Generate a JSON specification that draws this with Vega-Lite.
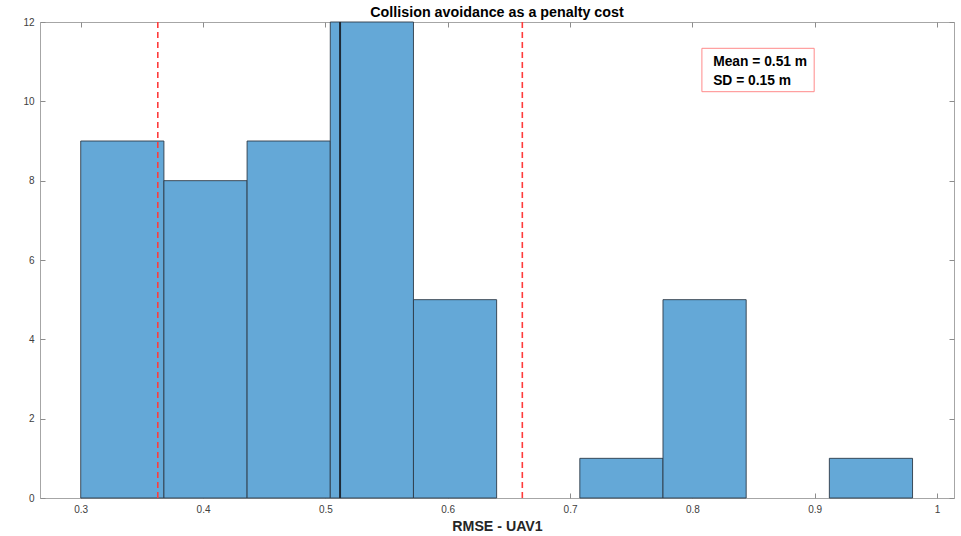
{
  "$schema": "https://vega.github.io/schema/vega-lite/v6.json",
  "width": 914,
  "height": 476,
  "autosize": {"type": "none"},
  "padding": {"left": 40, "top": 22, "right": 7, "bottom": 38},
  "background": "white",
  "title": {"text": "Collision avoidance as a penalty cost", "fontSize": 14.3, "fontWeight": "bold", "font": "Liberation Sans", "color": "#000000", "anchor": "middle", "offset": -3},
  "config": {
    "view": {"stroke": "#a6a6a6", "strokeWidth": 1},
    "axis": {"grid": false, "domain": false, "labelFont": "Liberation Sans", "labelFontSize": 10, "labelColor": "#404040", "tickColor": "#8c8c8c", "tickSize": -5, "titleFont": "Liberation Sans", "titleFontSize": 14.2, "titleFontWeight": "bold", "titleColor": "#262626"}
  },
  "datasets": {
    "bins": [
      {"bin_start": 0.300, "bin_end": 0.368, "count": 9},
      {"bin_start": 0.368, "bin_end": 0.436, "count": 8},
      {"bin_start": 0.436, "bin_end": 0.504, "count": 9},
      {"bin_start": 0.504, "bin_end": 0.572, "count": 12},
      {"bin_start": 0.572, "bin_end": 0.640, "count": 5},
      {"bin_start": 0.708, "bin_end": 0.776, "count": 1},
      {"bin_start": 0.776, "bin_end": 0.844, "count": 5},
      {"bin_start": 0.912, "bin_end": 0.980, "count": 1}
    ],
    "stats": [
      {"label": "mean", "value": 0.512},
      {"label": "mean - SD", "value": 0.363},
      {"label": "mean + SD", "value": 0.661}
    ],
    "box": [
      {"x": 0.8078, "x2": 0.8996, "y": 11.337, "y2": 10.243}
    ],
    "notes": [
      {"text": "Mean = 0.51 m", "x": 0.817, "y": 11.0},
      {"text": "SD = 0.15 m", "x": 0.817, "y": 10.52}
    ]
  },
  "layer": [
    {
      "data": {"name": "bins"},
      "mark": {"type": "rect", "fill": "#64a8d7", "stroke": "#2e3b47", "strokeWidth": 0.9},
      "encoding": {
        "x": {"field": "bin_start", "type": "quantitative", "scale": {"domain": [0.2667, 1.0139], "nice": false, "zero": false},
              "axis": {"orient": "bottom", "values": [0.3, 0.4, 0.5, 0.6, 0.7, 0.8, 0.9, 1.0], "format": ".1~f", "labelPadding": 11, "title": "RMSE - UAV1", "titlePadding": 5}},
        "x2": {"field": "bin_end"},
        "y": {"field": "count", "type": "quantitative", "scale": {"domain": [0, 12], "nice": false, "zero": true},
              "axis": {"orient": "left", "values": [0, 2, 4, 6, 8, 10, 12], "labelPadding": 11, "title": null}},
        "y2": {"datum": 0}
      }
    },
    {
      "data": {"name": "stats"},
      "transform": [{"filter": "datum.label === 'mean'"}],
      "mark": {"type": "rule", "color": "#1e2a36", "strokeWidth": 2},
      "encoding": {
        "x": {"field": "value", "type": "quantitative", "scale": {"domain": [0.2667, 1.0139], "nice": false, "zero": false}, "axis": null}
      }
    },
    {
      "data": {"name": "stats"},
      "transform": [{"filter": "datum.label !== 'mean'"}],
      "mark": {"type": "rule", "color": "#ff3b3b", "strokeWidth": 1.6, "strokeDash": [6, 4]},
      "encoding": {
        "x": {"field": "value", "type": "quantitative", "scale": {"domain": [0.2667, 1.0139], "nice": false, "zero": false}, "axis": null}
      }
    },
    {
      "data": {"name": "box"},
      "mark": {"type": "rect", "fill": "white", "stroke": "#ff8a8a", "strokeWidth": 1},
      "encoding": {
        "x": {"field": "x", "type": "quantitative", "scale": {"domain": [0.2667, 1.0139], "nice": false, "zero": false},
              "axis": {"orient": "top", "values": [0.3, 0.4, 0.5, 0.6, 0.7, 0.8, 0.9, 1.0], "labels": false, "title": null}},
        "x2": {"field": "x2"},
        "y": {"field": "y", "type": "quantitative", "scale": {"domain": [0, 12], "nice": false, "zero": true},
              "axis": {"orient": "right", "values": [0, 2, 4, 6, 8, 10, 12], "labels": false, "title": null}},
        "y2": {"field": "y2"}
      }
    },
    {
      "data": {"name": "notes"},
      "mark": {"type": "text", "align": "left", "baseline": "middle", "font": "Liberation Sans", "fontSize": 13.8, "fontWeight": "bold", "color": "#000000"},
      "encoding": {
        "x": {"field": "x", "type": "quantitative", "scale": {"domain": [0.2667, 1.0139], "nice": false, "zero": false}, "axis": null},
        "y": {"field": "y", "type": "quantitative", "scale": {"domain": [0, 12], "nice": false, "zero": true}, "axis": null},
        "text": {"field": "text"}
      }
    }
  ],
  "resolve": {"axis": {"x": "independent", "y": "independent"}}
}
